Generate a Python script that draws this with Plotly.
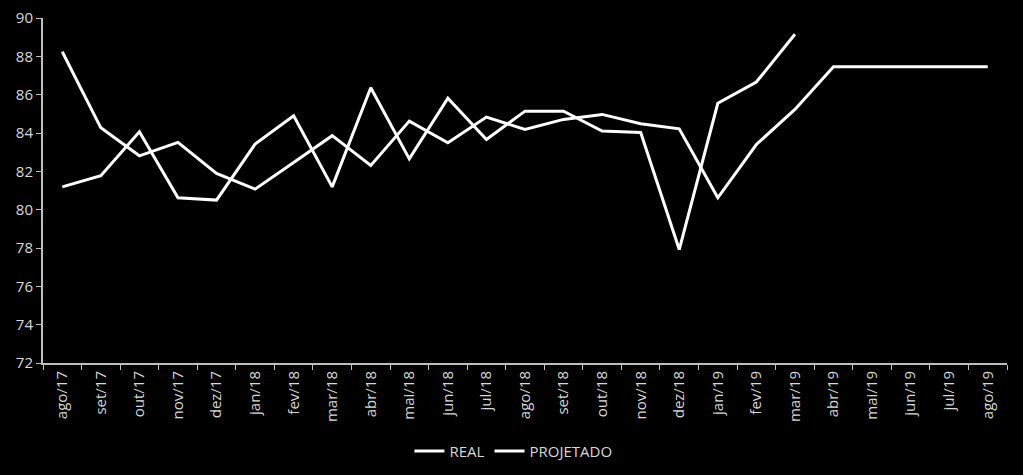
import plotly.graph_objects as go

categories = ["ago/17", "set/17", "out/17", "nov/17", "dez/17", "jan/18", "fev/18", "mar/18",
              "abr/18", "mai/18", "jun/18", "jul/18", "ago/18", "set/18", "out/18", "nov/18",
              "dez/18", "jan/19", "fev/19", "mar/19", "abr/19", "mai/19", "jun/19", "jul/19", "ago/19"]

real = [81.19, 81.77, 84.06, 80.62, 80.50, 83.42, 84.90, 81.19, 86.36, 82.65, 85.82, 83.66,
        85.14, 85.14, 84.10, 84.03, 77.92, 85.55, 86.66, 89.15,
        None, None, None, None, None]

projetado = [88.24, 84.27, 82.81, 83.51, 81.89, 81.07, 82.46, 83.86, 82.31, 84.62, 83.49, 84.83,
             84.19, 84.71, 84.97, 84.48, 84.22, 80.62, 83.40, 85.23, 87.46, 87.46, 87.46, 87.46, 87.46]

y_ticks = [72, 74, 76, 78, 80, 82, 84, 86, 88, 90]

FONT = "Open Sans"
TXT = "#d9d9d9"
AX = "#bfbfbf"

fig = go.Figure()
fig.add_trace(go.Scatter(x=categories, y=real, name="REAL", mode="lines",
                         line=dict(color="white", width=3), connectgaps=False))
fig.add_trace(go.Scatter(x=categories, y=projetado, name="PROJETADO", mode="lines",
                         line=dict(color="white", width=3)))

fig.update_layout(
    width=1023, height=475,
    paper_bgcolor="black", plot_bgcolor="black",
    margin=dict(l=43, r=16, t=18, b=112, autoexpand=False),
    font=dict(family=FONT, size=15, color=TXT),
    showlegend=True,
    legend=dict(orientation="h", x=0.488, xanchor="center", y=-0.256, yanchor="middle",
                font=dict(family=FONT, size=15, color=TXT), bgcolor="rgba(0,0,0,0)",
                itemwidth=30),
    xaxis=dict(type="category", showgrid=False, zeroline=False, automargin=False,
               showline=True, linecolor=AX, linewidth=2,
               ticks="outside", tickson="boundaries", ticklen=5, tickcolor=AX, tickwidth=1,
               tickangle=-90, tickfont=dict(family=FONT, size=15, color=TXT),
               range=[-0.5, len(categories) - 0.5]),
    yaxis=dict(range=[72, 90], tickvals=y_ticks, showgrid=False, zeroline=False, automargin=False,
               showline=True, linecolor=AX, linewidth=2,
               ticks="outside", ticklen=5, tickcolor=AX, tickwidth=1,
               tickfont=dict(family=FONT, size=15, color=TXT)),
)

fig.write_html("out.html")
